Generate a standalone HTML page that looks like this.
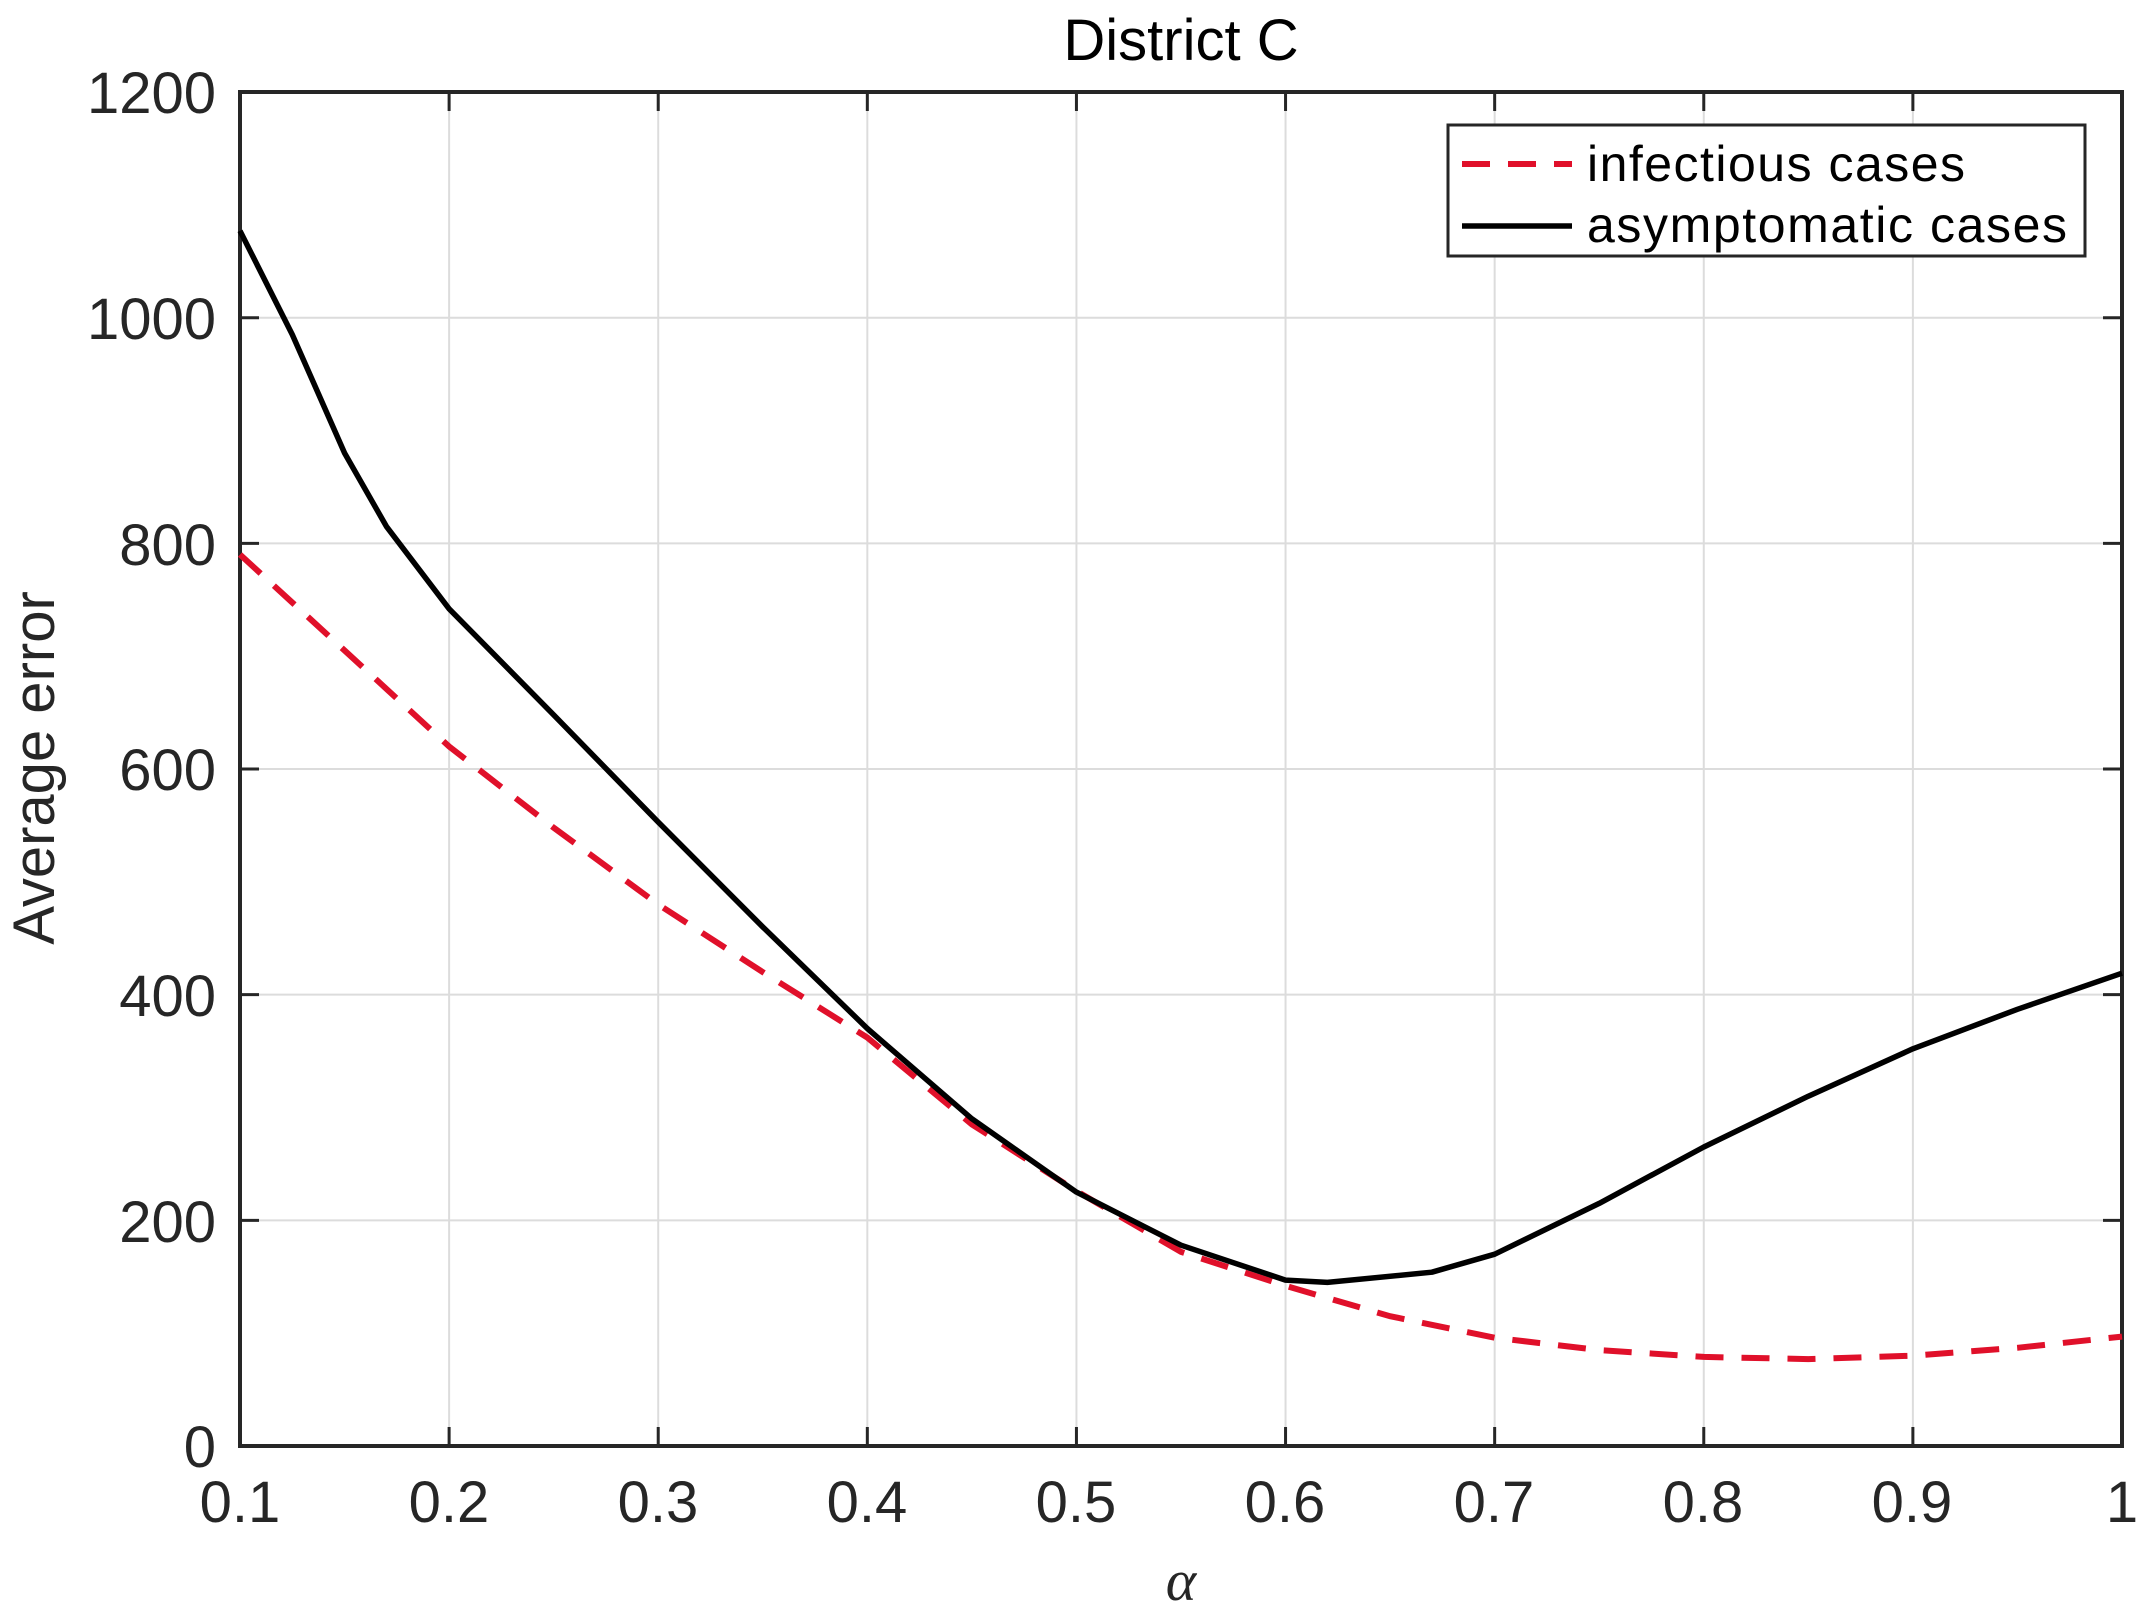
<!DOCTYPE html>
<html><head><meta charset="utf-8"><style>html,body{margin:0;padding:0;background:#fff}svg{display:block}</style></head>
<body>
<svg id="s" width="2147" height="1616" xmlns="http://www.w3.org/2000/svg" font-family="Liberation Sans, Arial, sans-serif">
<rect width="2147" height="1616" fill="#fff"/>
<g id="grid" stroke="#dcdcdc" stroke-width="2"></g>
<g id="ticks" stroke="#262626" stroke-width="3"></g>
<rect x="240" y="92" width="1882" height="1354" fill="none" stroke="#262626" stroke-width="4"/>
<g font-size="58" fill="#262626" text-anchor="end">
<text x="216" y="113">1200</text>
<text x="216" y="339">1000</text>
<text x="216" y="565">800</text>
<text x="216" y="790">600</text>
<text x="216" y="1016">400</text>
<text x="216" y="1242">200</text>
<text x="216" y="1467">0</text>
</g>
<g font-size="58" fill="#262626" text-anchor="middle">
<text x="240" y="1522">0.1</text>
<text x="449" y="1522">0.2</text>
<text x="658" y="1522">0.3</text>
<text x="867" y="1522">0.4</text>
<text x="1076" y="1522">0.5</text>
<text x="1285" y="1522">0.6</text>
<text x="1494" y="1522">0.7</text>
<text x="1703" y="1522">0.8</text>
<text x="1912" y="1522">0.9</text>
<text x="2122" y="1522">1</text>
</g>
<text x="1181" y="60" font-size="58" text-anchor="middle" fill="#000">District C</text>
<text transform="translate(54,768) rotate(-90)" font-size="58" text-anchor="middle" fill="#262626">Average error</text>
<text x="1181" y="1600" font-size="58" font-style="italic" font-family="Liberation Serif, serif" text-anchor="middle" fill="#262626">α</text>
<path id="red" fill="none" stroke="#e0102a" stroke-width="6" stroke-dasharray="28,18"/>
<path id="blk" fill="none" stroke="#000" stroke-width="5.5" stroke-linejoin="round"/>
<rect x="1448" y="125" width="637" height="131" fill="#fff" stroke="#262626" stroke-width="3"/>
<line x1="1462" y1="164" x2="1572" y2="164" stroke="#e0102a" stroke-width="6" stroke-dasharray="28,18"/>
<line x1="1462" y1="226" x2="1572" y2="226" stroke="#000" stroke-width="5.5"/>
<text x="1587" y="181" font-size="50" fill="#000" textLength="378">infectious cases</text>
<text x="1587" y="242" font-size="50" fill="#000" textLength="480">asymptomatic cases</text>
</svg>
<script>
const X=a=>240+(a-0.1)*2091.1, Y=v=>1446-v*1.1283;
let g='',t='';
for(let i=1;i<10;i++){const x=X(0.1+i*0.1);g+=`<line x1="${x}" y1="92" x2="${x}" y2="1446"/>`;t+=`<line x1="${x}" y1="1446" x2="${x}" y2="1427"/><line x1="${x}" y1="92" x2="${x}" y2="111"/>`;}
for(let i=1;i<6;i++){const y=Y(i*200);g+=`<line x1="240" y1="${y}" x2="2122" y2="${y}"/>`;t+=`<line x1="240" y1="${y}" x2="259" y2="${y}"/><line x1="2122" y1="${y}" x2="2103" y2="${y}"/>`;}
document.getElementById('grid').innerHTML=g;document.getElementById('ticks').innerHTML=t;
const blk=[[0.1,1077],[0.125,985],[0.15,880],[0.17,815],[0.2,742],[0.25,648],[0.3,553],[0.35,460],[0.4,370],[0.45,290],[0.5,225],[0.55,178],[0.6,147],[0.62,145],[0.67,154],[0.7,170],[0.75,215],[0.8,265],[0.85,310],[0.9,352],[0.95,387],[1.0,419]];
const red=[[0.1,790],[0.15,705],[0.2,620],[0.25,548],[0.3,480],[0.35,420],[0.4,362],[0.45,285],[0.5,226],[0.55,172],[0.6,142],[0.65,115],[0.7,96],[0.75,85],[0.8,79],[0.85,77],[0.9,80],[0.95,87],[1.0,97]];
const p=d=>d.map((q,i)=>(i?'L':'M')+X(q[0]).toFixed(1)+' '+Y(q[1]).toFixed(1)).join(' ');
document.getElementById('blk').setAttribute('d',p(blk));
document.getElementById('red').setAttribute('d',p(red));
</script>
</body></html>
